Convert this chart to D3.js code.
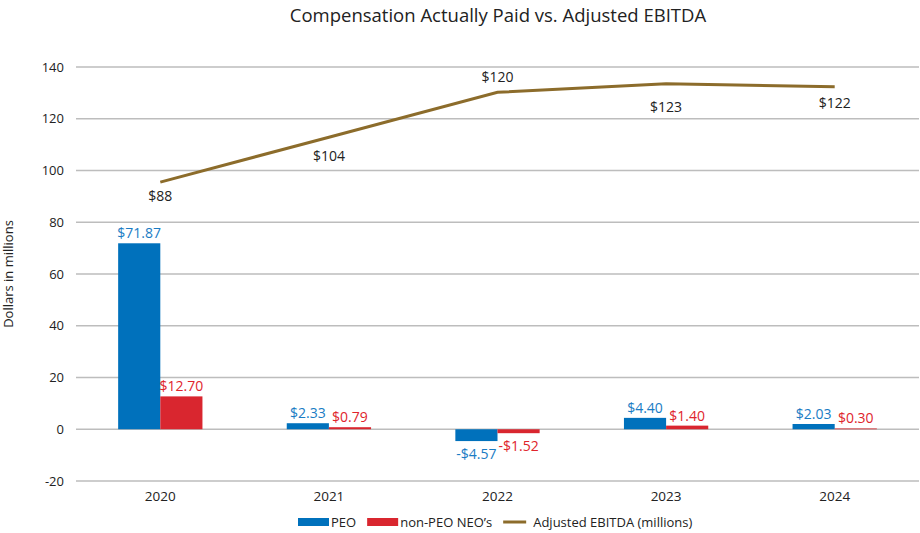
<!DOCTYPE html>
<html>
<head>
<meta charset="utf-8">
<script src="https://cdn.jsdelivr.net/npm/d3@7"></script>
<style>
    body { margin: 0; background: #fff; }
    svg text { font-family: "Open Sans", "Noto Sans", sans-serif; }
</style>
</head>
<body>
<svg id="chart" width="920" height="533"></svg>
<script>
// Chart data
const years = ['2020', '2021', '2022', '2023', '2024'];
const peoValues = [71.87, 2.33, -4.57, 4.40, 2.03];
const neoValues = [12.70, 0.79, -1.52, 1.40, 0.30];
const ebitdaValues = [88, 104, 120, 123, 122];
const yTicks = [-20, 0, 20, 40, 60, 80, 100, 120, 140];

// Label placement for the EBITDA points (above / below the line)
const ebitdaLabelDy = [19, 24, -10, 28, 21];

const svg = d3.select('#chart');
const margin = { top: 67, right: 1, bottom: 52, left: 76 };
const width = 920 - margin.left - margin.right;
const height = 533 - margin.top - margin.bottom;

const colors = { peo: '#0071bc', neo: '#d9262f', line: '#8c6c2b' };
const labelColors = { peo: '#1a7cc4', neo: '#e0242c' };

const x = d3.scaleBand()
    .domain(years)
    .range([0, width])
    .paddingInner(0.5)
    .paddingOuter(0.25);

const y = d3.scaleLinear()
    .domain([-20, 140])
    .range([height, 0]);

// Hidden secondary axis for the EBITDA line
const y2 = d3.scaleLinear()
    .domain([0, 129])
    .range([y(0), y(140)]);

const g = svg.append('g').attr('transform', `translate(${margin.left},${margin.top})`);

// Title
svg.append('text')
    .attr('x', 498)
    .attr('y', 22)
    .attr('text-anchor', 'middle')
    .attr('font-size', '18.5px')
    .attr('fill', '#222')
    .text('Compensation Actually Paid vs. Adjusted EBITDA');

// Gridlines + y tick labels
g.append('g')
    .selectAll('line')
    .data(yTicks)
    .join('line')
    .attr('x1', 0)
    .attr('x2', width)
    .attr('y1', d => y(d))
    .attr('y2', d => y(d))
    .attr('stroke', '#bdbdbd')
    .attr('stroke-width', 1.5);

g.append('g')
    .selectAll('text')
    .data(yTicks)
    .join('text')
    .attr('x', -12)
    .attr('y', d => y(d))
    .attr('dy', '0.35em')
    .attr('text-anchor', 'end')
    .attr('font-size', '13px')
    .attr('fill', '#222')
    .text(d => d);

// Y axis title
svg.append('text')
    .attr('transform', `translate(13,${margin.top + y(60)}) rotate(-90)`)
    .attr('text-anchor', 'middle')
    .attr('font-size', '13px')
    .attr('fill', '#222')
    .text('Dollars in millions');

// X labels
g.append('g')
    .selectAll('text')
    .data(years)
    .join('text')
    .attr('x', d => x(d) + x.bandwidth() / 2)
    .attr('y', height + 20)
    .attr('text-anchor', 'middle')
    .attr('font-size', '13.5px')
    .attr('fill', '#222')
    .text(d => d);

// Bars
const barW = x.bandwidth() / 2;
const series = [
    { key: 'peo', values: peoValues, offset: 0 },
    { key: 'neo', values: neoValues, offset: 1 }
];

series.forEach(s => {
    const bars = g.append('g');
    bars.selectAll('rect')
        .data(s.values)
        .join('rect')
        .attr('x', (d, i) => x(years[i]) + s.offset * barW)
        .attr('y', d => y(Math.max(0, d)))
        .attr('width', barW)
        .attr('height', d => Math.abs(y(d) - y(0)))
        .attr('fill', colors[s.key]);

    bars.selectAll('text')
        .data(s.values)
        .join('text')
        .attr('x', (d, i) => x(years[i]) + s.offset * barW + barW / 2)
        .attr('y', d => d >= 0 ? y(d) - 5 : y(d) + 18)
        .attr('text-anchor', 'middle')
        .attr('font-size', '14px')
        .attr('fill', labelColors[s.key])
        .text(d => (d < 0 ? '-$' : '$') + Math.abs(d).toFixed(2));
});

// EBITDA line
const line = d3.line()
    .x((d, i) => x(years[i]) + x.bandwidth() / 2)
    .y(d => y2(d));

g.append('path')
    .datum(ebitdaValues)
    .attr('d', line)
    .attr('fill', 'none')
    .attr('stroke', colors.line)
    .attr('stroke-width', 3);

g.append('g')
    .selectAll('text')
    .data(ebitdaValues)
    .join('text')
    .attr('x', (d, i) => x(years[i]) + x.bandwidth() / 2)
    .attr('y', (d, i) => y2(d) + ebitdaLabelDy[i])
    .attr('text-anchor', 'middle')
    .attr('font-size', '14px')
    .attr('fill', '#222')
    .text(d => '$' + d);

// Legend
const legendItems = [
    { label: 'PEO', color: colors.peo, type: 'rect' },
    { label: 'non-PEO NEO\u2019s', color: colors.neo, type: 'rect' },
    { label: 'Adjusted EBITDA (millions)', color: colors.line, type: 'line' }
];
const legend = svg.append('g').attr('transform', 'translate(298,522)');
let lx = 0;
legendItems.forEach(item => {
    const gi = legend.append('g').attr('transform', `translate(${lx},0)`);
    if (item.type === 'rect') {
        gi.append('rect').attr('x', 0).attr('y', -4).attr('width', 31).attr('height', 8).attr('fill', item.color);
    } else {
        gi.append('line').attr('x1', 0).attr('x2', 23).attr('y1', 0).attr('y2', 0)
            .attr('stroke', item.color).attr('stroke-width', 3);
    }
    const t = gi.append('text')
        .attr('x', item.type === 'rect' ? 33 : 30)
        .attr('y', 0)
        .attr('dy', '0.35em')
        .attr('font-size', '13px')
        .attr('fill', '#222')
        .text(item.label);
    lx += (item.type === 'rect' ? 33 : 30) + t.node().getComputedTextLength() + 11;
});
</script>
</body>
</html>
